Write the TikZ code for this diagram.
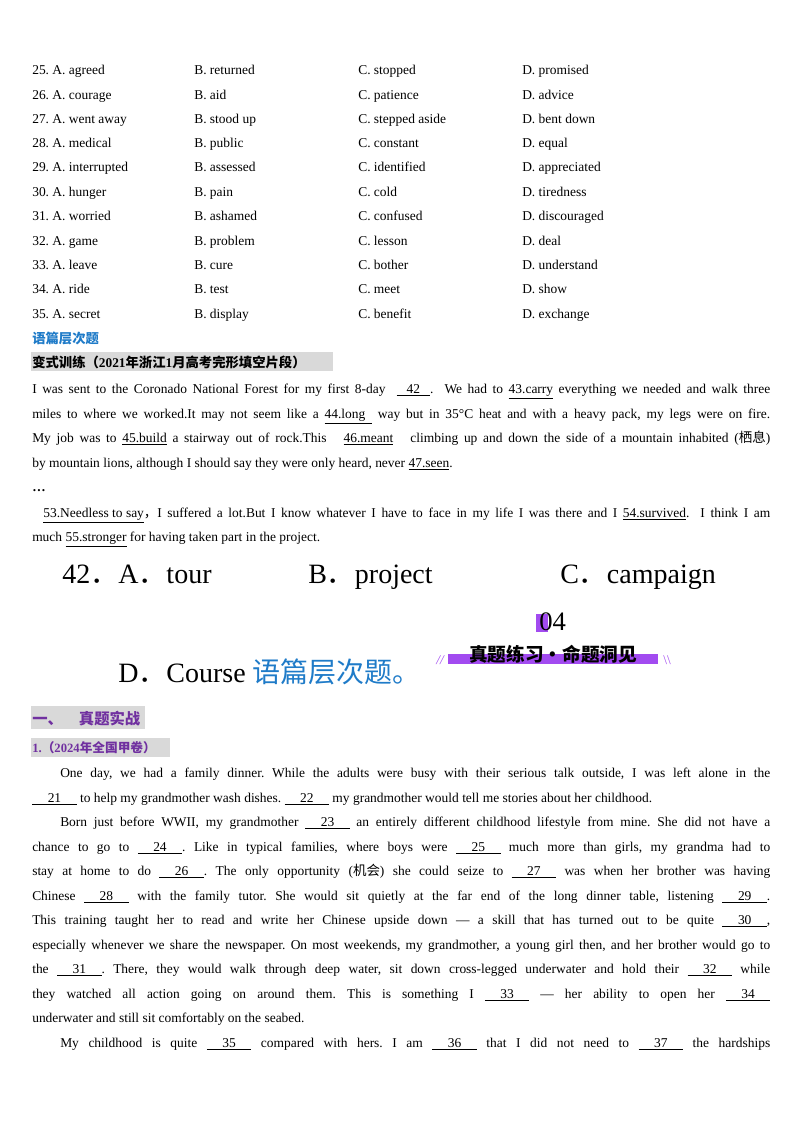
\documentclass[tikz,border=0pt]{standalone}
\usepackage{fontspec}
\setmainfont{Liberation Serif}
\newfontfamily\cjk{Noto Sans CJK SC}
\definecolor{hblue}{HTML}{1F7BC8}
\definecolor{hpurp}{HTML}{7030A0}
\definecolor{bpurp}{HTML}{A24BF0}
\definecolor{hgray}{HTML}{D9D9D9}
\newcommand\bl[1]{\underline{\makebox[3.3em]{#1}}}
\newcommand\ul[1]{\underline{#1}}
\newcommand\fl[1]{\makebox[553.5pt][s]{#1}}
\newcommand\fd{{\cjk ．}}
\frenchspacing
\begin{document}
\begin{tikzpicture}[x=0.75pt,y=-0.75pt,
  tx/.style={anchor=base west,inner sep=0pt,font=\fontsize{10.1}{12}\selectfont},
  big/.style={anchor=base west,inner sep=0pt,font=\fontsize{21}{24}\selectfont}]
\useasboundingbox (0,0) rectangle (800,1132);
\foreach \y/\a/\b/\c/\d [count=\i] in {
 74/25. A. agreed/B. returned/C. stopped/D. promised,
 99/26. A. courage/B. aid/C. patience/D. advice,
 123/27. A. went away/B. stood up/C. stepped aside/D. bent down,
 147/28. A. medical/B. public/C. constant/D. equal,
 171/29. A. interrupted/B. assessed/C. identified/D. appreciated,
 196/30. A. hunger/B. pain/C. cold/D. tiredness,
 220/31. A. worried/B. ashamed/C. confused/D. discouraged,
 245/32. A. game/B. problem/C. lesson/D. deal,
 269/33. A. leave/B. cure/C. bother/D. understand,
 293/34. A. ride/B. test/C. meet/D. show,
 318/35. A. secret/B. display/C. benefit/D. exchange}{
 \node[tx] (a\i) at (32,\y) {\a};
 \node[tx] (b\i) at (194,\y) {\b};
 \node[tx] (c\i) at (358,\y) {\c};
 \node[tx] (d\i) at (522,\y) {\d};
}
\node[tx,text=hblue,font=\cjk\bfseries\fontsize{10}{12}\selectfont] (h1) at (32,343) {语篇层次题};
\fill[hgray] (31,352) rectangle (333,371);
\node[tx,font=\fontsize{10}{12}\selectfont\bfseries] (h2) at (32,367) {{\cjk 变式训练（}2021{\cjk 年浙江}1{\cjk 月高考完形填空片段）}};
\node[tx] (p1) at (32,393) {\fl{I was sent to the Coronado National Forest for my first 8-day \ \ul{\ \ \ 42\ \ \ }.\ \ We had to \ul{43.carry} everything we needed and walk three}};
\node[tx] (p2) at (32,418) {\fl{miles to where we worked.It may not seem like a \ul{44.long\ \ } way but in 35°C heat and with a heavy pack, my legs were on fire.}};
\node[tx] (p3) at (32,442) {\fl{My job was to \ul{45.build} a stairway out of rock.This \ \ \ul{46.meant} \ \ climbing up and down the side of a mountain inhabited ({\cjk 栖息})}};
\node[tx] (p4) at (32,467) {by mountain lions, although I should say they were only heard, never \ul{47.seen}.};
\node[tx,font=\bfseries\fontsize{10}{12}\selectfont] (p5) at (32,491) {…};
\node[tx] (p6) at (32,517) {\fl{\ \ \ul{53.Needless to say}{\cjk ，}I suffered a lot.But I know whatever I have to face in my life I was there and I \ul{54.survived}.\ \ I think I am}};
\node[tx] (p7) at (32,541) {much \ul{55.stronger} for having taken part in the project.};
\node[big] (q42) at (62,583) {42\fd A\fd tour};
\node[big] (qb) at (308,583) {B\fd project};
\node[big] (qc) at (560,583) {C\fd campaign};
\fill[bpurp] (536,614) rectangle (548,632);
\node[anchor=base west,inner sep=0pt,font=\fontsize{20}{22}\selectfont] (n04) at (539,630) {04};
\fill[bpurp] (448,654) rectangle (658,664);
\node[anchor=base,inner sep=0pt,font=\cjk\bfseries\fontsize{14}{16}\selectfont] (ban) at (553,661) {真题练习·命题洞见};
\node[anchor=base,inner sep=0pt,text=bpurp,font=\fontsize{10}{12}\selectfont\itshape] (sl1) at (440,664) {//};
\node[anchor=base,inner sep=0pt,text=bpurp,font=\fontsize{10}{12}\selectfont] (sl2) at (667,664) {\textbackslash\textbackslash};
\node[big] (qd) at (118,682) {D\fd Course {\cjk\color{hblue}语篇层次题。}};
\fill[hgray] (31,706) rectangle (145,729);
\node[anchor=base west,inner sep=0pt,text=hpurp,font=\cjk\bfseries\fontsize{11.5}{13}\selectfont] (s1) at (32,724) {一、\hspace{12pt}真题实战};
\fill[hgray] (31,738) rectangle (170,757);
\node[anchor=base west,inner sep=0pt,text=hpurp,font=\bfseries\fontsize{9.5}{11}\selectfont] (s2) at (32,752) {1.{\cjk （}2024{\cjk 年全国甲卷）}};
\node[tx] (r1) at (60,777) {\makebox[532.5pt][s]{One day, we had a family dinner. While the adults were busy with their serious talk outside, I was left alone in the}};
\node[tx] (r2) at (32,802) {\bl{21} to help my grandmother wash dishes. \bl{22} my grandmother would tell me stories about her childhood.};
\node[tx] (r3) at (60,826) {\makebox[532.5pt][s]{Born just before WWII, my grandmother \bl{23} an entirely different childhood lifestyle from mine. She did not have a}};
\node[tx] (r4) at (32,851) {\fl{chance to go to \bl{24}. Like in typical families, where boys were \bl{25} much more than girls, my grandma had to}};
\node[tx] (r5) at (32,875) {\fl{stay at home to do \bl{26}. The only opportunity ({\cjk 机会}) she could seize to \bl{27} was when her brother was having}};
\node[tx] (r6) at (32,900) {\fl{Chinese \bl{28} with the family tutor. She would sit quietly at the far end of the long dinner table, listening \bl{29}.}};
\node[tx] (r7) at (32,924) {\fl{This training taught her to read and write her Chinese upside down — a skill that has turned out to be quite \bl{30},}};
\node[tx] (r8) at (32,949) {\fl{especially whenever we share the newspaper. On most weekends, my grandmother, a young girl then, and her brother would go to}};
\node[tx] (r9) at (32,973) {\fl{the \bl{31}. There, they would walk through deep water, sit down cross-legged underwater and hold their \bl{32} while}};
\node[tx] (r10) at (32,998) {\fl{they watched all action going on around them. This is something I \bl{33} — her ability to open her \bl{34}}};
\node[tx] (r11) at (32,1022) {underwater and still sit comfortably on the seabed.};
\node[tx] (r12) at (60,1047) {\makebox[532.5pt][s]{My childhood is quite \bl{35} compared with hers. I am \bl{36} that I did not need to \bl{37} the hardships}};
\end{tikzpicture}
\end{document}
